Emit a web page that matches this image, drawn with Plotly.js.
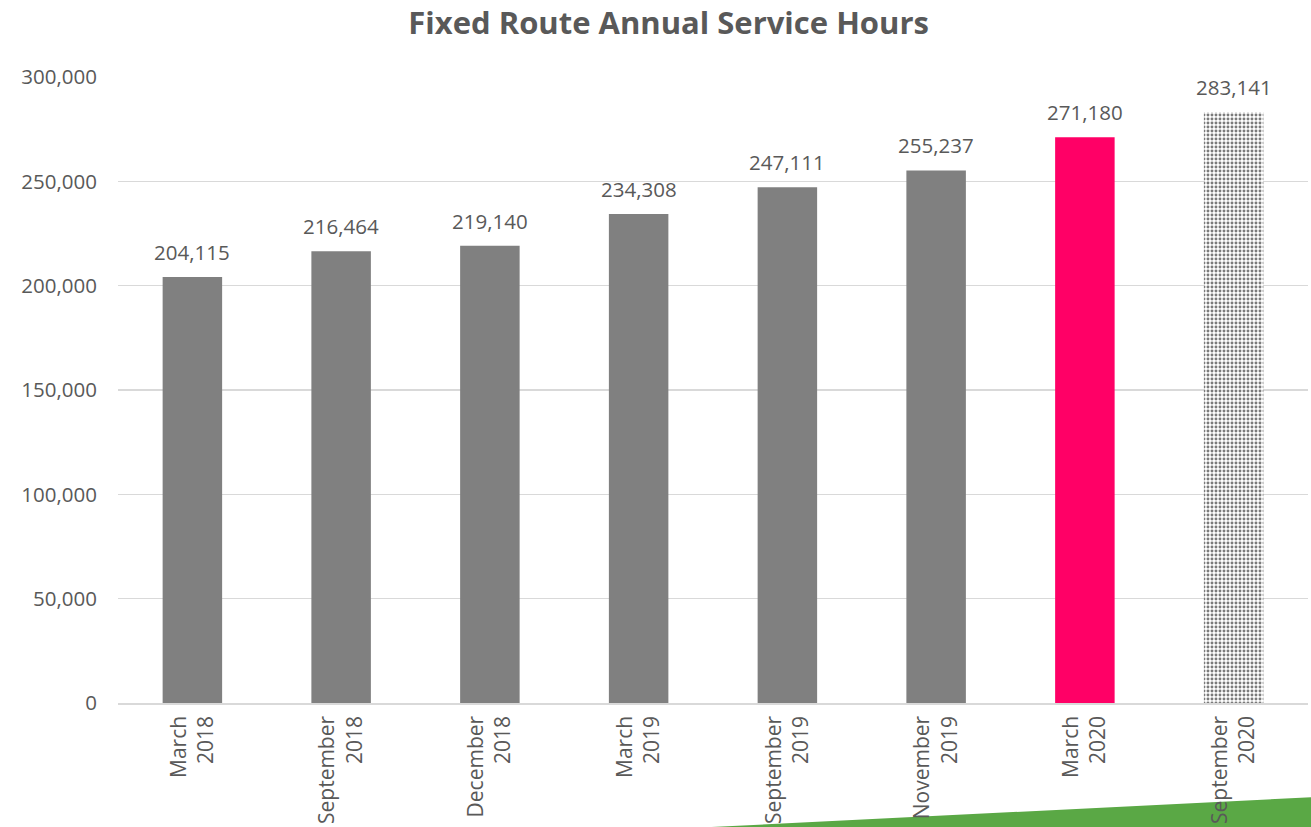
<!DOCTYPE html>
<html>
<head>
<meta charset="utf-8">
<script src="https://cdn.plot.ly/plotly-3.0.1.min.js"></script>
<style>html,body{margin:0;padding:0;background:#fff;}#chart{width:1311px;height:827px;}</style>
</head>
<body>
<div id="chart"></div>
<script>
const categories = ["March<br>2018", "September<br>2018", "December<br>2018", "March<br>2019", "September<br>2019", "November<br>2019", "March<br>2020", "September<br>2020"];
const serviceHours = [204115, 216464, 219140, 234308, 247111, 255237, 271180, 283141];
const barColors = ["#808080", "#808080", "#808080", "#808080", "#808080", "#808080", "#FF0066"];
const yTicks = [0, 50000, 100000, 150000, 200000, 250000, 300000];

const fmt = v => v.toLocaleString("en-US");
const txtColor = "#595959";
const font = "'Open Sans', 'Liberation Sans', sans-serif";

const nSolid = barColors.length;

const solidTrace = {
  type: "bar",
  x: categories.slice(0, nSolid),
  y: serviceHours.slice(0, nSolid),
  width: 0.4,
  marker: {color: barColors, line: {width: 0}},
  hoverinfo: "x+y"
};

const patternTrace = {
  type: "bar",
  x: categories.slice(nSolid),
  y: serviceHours.slice(nSolid),
  width: 0.4,
  marker: {
    color: "#ffffff",
    line: {width: 0},
    pattern: {shape: ".", fgcolor: "#7a7a7a", bgcolor: "#ffffff", size: 4, solidity: 0.42}
  },
  hoverinfo: "x+y"
};

const annotations = categories.map((c, i) => ({
  x: c, y: serviceHours[i], xref: "x", yref: "y",
  text: fmt(serviceHours[i]), showarrow: false, yanchor: "bottom", yshift: 9,
  font: {family: font, size: 20.5, color: txtColor}
}));

const layout = {
  width: 1311, height: 827,
  margin: {l: 118, r: 3, t: 77, b: 124},
  paper_bgcolor: "#ffffff", plot_bgcolor: "#ffffff",
  title: {text: "<b>Fixed Route Annual Service Hours</b>", x: 0.51, xanchor: "center", y: 0.972, yanchor: "middle",
          font: {family: font, size: 31, color: txtColor}},
  showlegend: false,
  barmode: "overlay",
  xaxis: {
    type: "category", categoryorder: "array", categoryarray: categories,
    tickangle: -90, showgrid: false,
    showline: true, linecolor: "#d9d9d9", linewidth: 1.5,
    ticks: "", ticklabelstandoff: 3,
    tickfont: {family: font, size: 21, color: txtColor}
  },
  yaxis: {
    range: [0, 300000], tickvals: yTicks, ticktext: yTicks.map(fmt),
    showgrid: true, gridcolor: "#d9d9d9", gridwidth: 1.5, zeroline: false,
    showline: false, ticks: "", ticklabelstandoff: 20,
    tickfont: {family: font, size: 20.5, color: txtColor}
  },
  annotations: annotations,
  shapes: [{
    type: "path", xref: "paper", yref: "paper", layer: "below",
    path: "M 0.489,-0.199 L 1.01,-0.150 L 1.01,-0.3 L 0.489,-0.3 Z",
    fillcolor: "#5aa845", line: {width: 0}
  }]
};

Plotly.newPlot("chart", [solidTrace, patternTrace], layout, {displayModeBar: false, staticPlot: true});
</script>
</body>
</html>
